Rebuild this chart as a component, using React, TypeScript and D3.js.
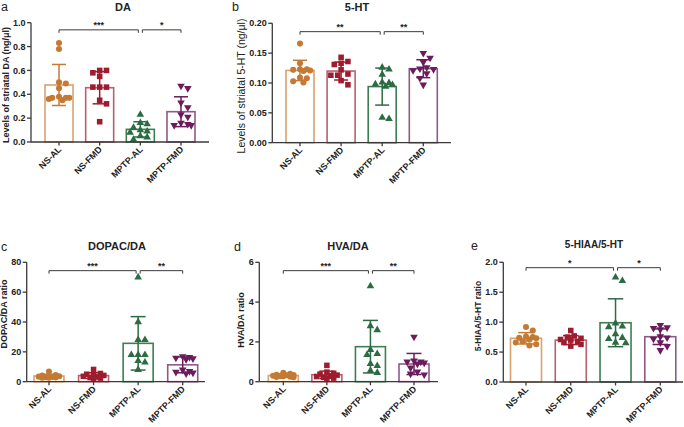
import React from 'react';
import * as d3 from 'd3';

const groups = ["NS-AL", "NS-FMD", "MPTP-AL", "MPTP-FMD"];
const pointColors = ["#c47a32", "#9e1c2e", "#2b6c42", "#6a1c5c"];
const barColors = ["#d9a26f", "#b8606f", "#3d7e53", "#8e5a88"];
const shapes = ["circle", "square", "triangle", "triangleDown"];

// a: DA
const daValues = [
  [0.83, 0.78, 0.50, 0.49, 0.45, 0.38, 0.37, 0.37, 0.37, 0.36, 0.35],
  [0.60, 0.60, 0.58, 0.55, 0.46, 0.46, 0.46, 0.35, 0.32, 0.17],
  [0.23, 0.16, 0.15, 0.12, 0.10, 0.09, 0.08, 0.05, 0.04, 0.02],
  [0.47, 0.45, 0.33, 0.29, 0.23, 0.21, 0.16, 0.15, 0.14, 0.14],
];
const daMean = [0.478, 0.455, 0.106, 0.254];
const daSd = [0.172, 0.135, 0.064, 0.125];
const daTicks = [0, 0.2, 0.4, 0.6, 0.8, 1.0];

// b: 5-HT
const htValues = [
  [0.166, 0.133, 0.123, 0.122, 0.121, 0.123, 0.120, 0.108, 0.109, 0.101, 0.103],
  [0.143, 0.136, 0.133, 0.131, 0.122, 0.115, 0.113, 0.113, 0.104, 0.097],
  [0.126, 0.123, 0.114, 0.101, 0.100, 0.098, 0.097, 0.094, 0.042, 0.040],
  [0.150, 0.142, 0.135, 0.126, 0.124, 0.123, 0.121, 0.116, 0.108, 0.097],
];
const htMean = [0.121, 0.120, 0.094, 0.124];
const htSd = [0.017, 0.015, 0.031, 0.015];
const htTicks = [0, 0.05, 0.10, 0.15, 0.20];

// c: DOPAC/DA
const dopacValues = [
  [6.8, 4.5, 4.2, 4.0, 3.6, 3.4, 3.2, 3.0, 2.9, 2.7, 2.6],
  [8.2, 5.5, 5.0, 4.6, 4.2, 3.6, 3.2, 2.8, 2.4, 1.8],
  [70, 40, 28, 28, 18, 18, 18, 14, 13, 8],
  [17, 16.5, 16, 15.5, 15, 8, 7, 6.5, 6, 5.5],
];
const dopacMean = [3.8, 4.1, 25.7, 11.3];
const dopacSd = [1.2, 1.9, 17.9, 5.3];
const dopacTicks = [0, 20, 40, 60, 80];

// d: HVA/DA
const hvaValues = [
  [0.45, 0.40, 0.35, 0.33, 0.32, 0.30, 0.28, 0.27, 0.25, 0.24, 0.22],
  [0.82, 0.48, 0.42, 0.38, 0.33, 0.30, 0.26, 0.22, 0.18, 0.15],
  [4.8, 2.8, 2.6, 1.6, 1.4, 1.35, 0.9, 0.8, 0.55, 0.45],
  [2.25, 1.05, 1.0, 1.0, 0.95, 0.9, 0.7, 0.5, 0.4, 0.35],
];
const hvaMean = [0.31, 0.35, 1.76, 0.89];
const hvaSd = [0.06, 0.18, 1.32, 0.53];
const hvaTicks = [0, 2, 4, 6];

// e: 5-HIAA/5-HT
const hiaaValues = [
  [0.92, 0.86, 0.76, 0.75, 0.74, 0.73, 0.71, 0.68, 0.66, 0.63, 0.61],
  [0.86, 0.77, 0.75, 0.73, 0.71, 0.70, 0.68, 0.66, 0.63, 0.60],
  [1.75, 1.69, 0.98, 0.93, 0.92, 0.80, 0.74, 0.72, 0.66, 0.65],
  [0.95, 0.91, 0.90, 0.88, 0.76, 0.74, 0.72, 0.66, 0.60, 0.53],
];
const hiaaMean = [0.73, 0.70, 0.99, 0.757];
const hiaaSd = [0.095, 0.075, 0.40, 0.13];
const hiaaTicks = [0, 0.5, 1.0, 1.5, 2.0];

type Sig = { from: number; to: number; label: string };

const panels = [
  {
    letter: "a", title: "DA", ylabel: "Levels of striatal DA (ng/μl)",
    values: daValues, mean: daMean, sd: daSd, ticks: daTicks, fmt: ".1f",
    sigLevel: 0.94, sig: [{ from: 0, to: 2, label: "***" }, { from: 2, to: 3, label: "*" }] as Sig[],
    L: { x0: 31, x1: 209, yTop: 22.7, yBot: 142, pad: 0.689, barW: 28, titleX: 123, titleY: 11, titleSize: 11,
      letterX: 1, letterY: 11, ylX: 9, ylY: 85, ylSize: 9, ylWeight: "bold" },
  },
  {
    letter: "b", title: "5-HT", ylabel: "Levels of striatal 5-HT (ng/μl)",
    values: htValues, mean: htMean, sd: htSd, ticks: htTicks, fmt: ".2f",
    sigLevel: 0.186, sig: [{ from: 0, to: 2, label: "**" }, { from: 2, to: 3, label: "**" }] as Sig[],
    L: { x0: 272.3, x1: 451, yTop: 23.3, yBot: 142.7, pad: 0.674, barW: 28, titleX: 357, titleY: 11, titleSize: 11,
      letterX: 232, letterY: 11, ylX: 245, ylY: 86, ylSize: 10.5, ylWeight: "normal" },
  },
  {
    letter: "c", title: "DOPAC/DA", ylabel: "DOPAC/DA ratio",
    values: dopacValues, mean: dopacMean, sd: dopacSd, ticks: dopacTicks, fmt: "d",
    sigLevel: 74.4, sig: [{ from: 0, to: 2, label: "***" }, { from: 2, to: 3, label: "**" }] as Sig[],
    L: { x0: 26.7, x1: 205, yTop: 262.3, yBot: 381.7, pad: 0.5, barW: 30, titleX: 117, titleY: 250, titleSize: 11,
      letterX: 1, letterY: 251, ylX: 7, ylY: 314, ylSize: 9, ylWeight: "bold" },
  },
  {
    letter: "d", title: "HVA/DA", ylabel: "HVA/DA ratio",
    values: hvaValues, mean: hvaMean, sd: hvaSd, ticks: hvaTicks, fmt: "d",
    sigLevel: 5.58, sig: [{ from: 0, to: 2, label: "***" }, { from: 2, to: 3, label: "**" }] as Sig[],
    L: { x0: 259.3, x1: 438, yTop: 262.3, yBot: 381.7, pad: 0.551, barW: 30, titleX: 348, titleY: 250, titleSize: 11,
      letterX: 234, letterY: 251, ylX: 244, ylY: 320, ylSize: 9, ylWeight: "bold" },
  },
  {
    letter: "e", title: "5-HIAA/5-HT", ylabel: "5-HIAA/5-HT ratio",
    values: hiaaValues, mean: hiaaMean, sd: hiaaSd, ticks: hiaaTicks, fmt: ".1f",
    sigLevel: 1.91, sig: [{ from: 0, to: 2, label: "*" }, { from: 2, to: 3, label: "*" }] as Sig[],
    L: { x0: 503.3, x1: 683, yTop: 262.3, yBot: 382, pad: 0.507, barW: 31, titleX: 594, titleY: 248, titleSize: 10,
      letterX: 471, letterY: 250, ylX: 481, ylY: 316, ylSize: 8.5, ylWeight: "bold" },
  },
];

const AXIS = "#3a3a3a";
const FONT = "'Liberation Sans', Arial, sans-serif";

function symbolPath(shape: string) {
  if (shape === "circle") return d3.symbol().type(d3.symbolCircle).size(29)()!;
  if (shape === "square") return d3.symbol().type(d3.symbolSquare).size(31)()!;
  return d3.symbol().type(d3.symbolTriangle).size(25)()!;
}

function swarm(ys: number[], diam: number, maxOff: number) {
  const order = ys.map((y, i) => i).sort((a, b) => ys[a] - ys[b]);
  const placed: { x: number; y: number }[] = [];
  const xs = new Array(ys.length).fill(0);
  const step = diam * 0.55;
  const cands: number[] = [0];
  for (let k = 1; k * step <= maxOff; k++) { cands.push(k * step, -k * step); }
  for (const i of order) {
    const y = ys[i];
    let chosen: number | null = null;
    let best = 0, bestD = -1;
    for (const c of cands) {
      const dmin = placed.length ? Math.min(...placed.map(p => Math.hypot(p.x - c, p.y - y))) : Infinity;
      if (dmin >= diam * 0.95) { chosen = c; break; }
      if (dmin > bestD) { bestD = dmin; best = c; }
    }
    const x = chosen === null ? best : chosen;
    xs[i] = x;
    placed.push({ x, y });
  }
  return xs;
}

function Panel({ p }: { p: typeof panels[number] }) {
  const L = p.L;
  const dom = [p.ticks[0], p.ticks[p.ticks.length - 1]];
  const y = d3.scaleLinear().domain(dom).range([L.yBot, L.yTop]);
  const x = d3.scalePoint<string>().domain(groups).range([L.x0, L.x1]).padding(L.pad);
  const fmt = d3.format(p.fmt);
  const capHalf = L.barW * 0.25;
  const sy = y(p.sigLevel);
  return (
    <g fontFamily={FONT}>
      <text x={L.letterX} y={L.letterY} fontSize={12.5} fill="#222">{p.letter}</text>
      <text x={L.titleX} y={L.titleY} fontSize={L.titleSize} fontWeight="bold" textAnchor="middle" fill="#222">{p.title}</text>
      <text transform={`translate(${L.ylX},${L.ylY}) rotate(-90)`} fontSize={L.ylSize} fontWeight={L.ylWeight}
        textAnchor="middle" fill="#222">{p.ylabel}</text>
      {groups.map((g, gi) => {
        const cx = x(g)!;
        const m = p.mean[gi];
        const s = p.sd[gi];
        const ys = p.values[gi].map(v => y(v));
        const offs = swarm(ys, 6.2, L.barW / 2 - 3);
        const path = symbolPath(shapes[gi]);
        return (
          <g key={g}>
            <rect x={cx - L.barW / 2} y={y(m)} width={L.barW} height={L.yBot - y(m)}
              fill="white" stroke={barColors[gi]} strokeWidth={1.6} />
            {p.values[gi].map((v, i) => (
              <path key={i} d={path}
                transform={`translate(${cx + offs[i]},${y(v)})${shapes[gi] === "triangleDown" ? " rotate(180)" : ""}`}
                fill={pointColors[gi]} />
            ))}
            <g stroke={pointColors[gi]} strokeWidth={1.5} fill="none">
              <line x1={cx} x2={cx} y1={y(m - s)} y2={y(m + s)} />
              <line x1={cx - capHalf} x2={cx + capHalf} y1={y(m + s)} y2={y(m + s)} />
              <line x1={cx - capHalf} x2={cx + capHalf} y1={y(m - s)} y2={y(m - s)} />
            </g>
          </g>
        );
      })}
      <line x1={L.x0} x2={L.x0} y1={L.yBot} y2={L.yTop} stroke={AXIS} strokeWidth={1.3} />
      <line x1={L.x0} x2={L.x1} y1={L.yBot} y2={L.yBot} stroke={AXIS} strokeWidth={1.3} />
      {p.ticks.map(t => (
        <g key={t}>
          <line x1={L.x0 - 4} x2={L.x0} y1={y(t)} y2={y(t)} stroke={AXIS} strokeWidth={1.3} />
          <text x={L.x0 - 5.5} y={y(t)} dy="0.35em" textAnchor="end" fontSize={9} fontWeight="bold" fill="#222">{fmt(t)}</text>
        </g>
      ))}
      {groups.map(g => (
        <g key={g}>
          <line x1={x(g)} x2={x(g)} y1={L.yBot} y2={L.yBot + 3.5} stroke={AXIS} strokeWidth={1.3} />
          <text transform={`translate(${x(g)! + 3},${L.yBot + 8}) rotate(-45)`} textAnchor="end" fontSize={9}
            fontWeight="bold" fill="#222">{g}</text>
        </g>
      ))}
      {p.sig.map((s, i) => {
        const xa = x(groups[s.from])! + (i === 1 ? 2 : 0);
        const xb = x(groups[s.to])! - (i === 0 ? 2 : 0);
        return (
          <g key={i}>
            <path d={`M${xa},${sy + 3}V${sy}H${xb}V${sy + 3}`} fill="none" stroke={AXIS} strokeWidth={1} />
            <text x={(xa + xb) / 2} y={sy - 2} textAnchor="middle" fontSize={9} fontWeight="bold" fill="#222">{s.label}</text>
          </g>
        );
      })}
    </g>
  );
}

export default function App() {
  return (
    <svg width={684} height={427} style={{ position: "absolute", left: 0, top: 0, background: "white" }}>
      <rect width={684} height={427} fill="white" />
      {panels.map(p => <Panel key={p.letter} p={p} />)}
    </svg>
  );
}
